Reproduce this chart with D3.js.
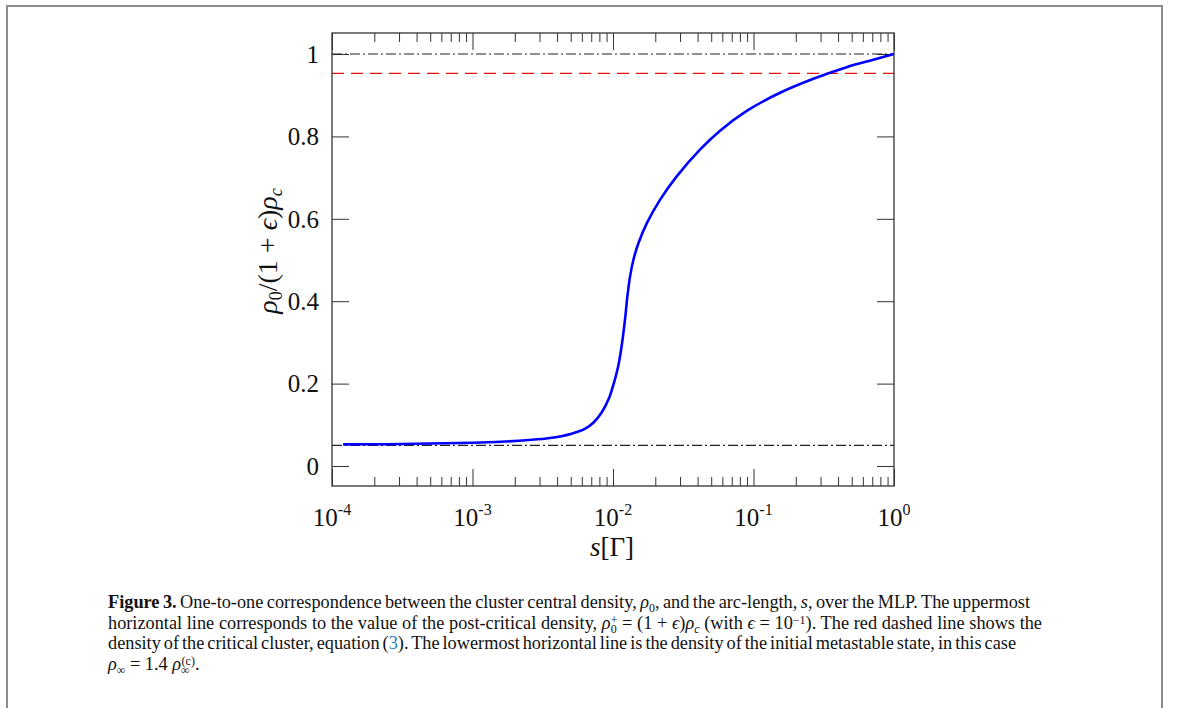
<!DOCTYPE html>
<html>
<head>
<meta charset="utf-8">
<script src="https://cdn.jsdelivr.net/npm/d3@7"></script>
<style>
  body { margin: 0; background: #fff; }
  svg { display: block; }
</style>
</head>
<body>
<div id="chart"></div>
<script>

// Values
// arc-length s (log axis) and normalised central density
const sValues = [1.2e-4, 2.5e-4, 5e-4, 1e-3, 1.6e-3, 2.5e-3, 3.55e-3, 5.0e-3, 6.3e-3, 7.24e-3,
                 8.3e-3, 9.33e-3, 1.016e-2, 1.09e-2, 1.153e-2, 1.216e-2, 1.265e-2, 1.321e-2,
                 1.396e-2, 1.514e-2, 1.738e-2, 2.16e-2, 2.84e-2, 4.16e-2, 5.78e-2, 8.95e-2,
                 0.1545, 0.267, 0.46, 0.713, 1.0]
const rhoValues = [0.0525, 0.053, 0.0545, 0.0565, 0.059, 0.063, 0.068, 0.078, 0.09, 0.105,
                   0.13, 0.163, 0.202, 0.243, 0.292, 0.354, 0.411, 0.459,
                   0.5, 0.54, 0.589, 0.646, 0.703, 0.768, 0.814, 0.862,
                   0.906, 0.94, 0.968, 0.986, 1.0]

// horizontal reference lines
const rhoPost = 1.0     // post-critical density (dash-dot, top)
const rhoCrit = 0.953   // critical cluster (red dashed)
const rhoInf = 0.05     // initial metastable state (dash-dot, bottom)

// ticks
const yTicks = [0, 0.2, 0.4, 0.6, 0.8, 1]
const yTickLabels = ["0", "0.2", "0.4", "0.6", "0.8", "1"]
const xMajor = [1e-4, 1e-3, 1e-2, 1e-1, 1]
const xExponents = ["-4", "-3", "-2", "-1", "0"]

// caption, one array per printed line
const captionLines = [
    [["Figure 3.", "b"], [" One-to-one correspondence between the cluster central density, "], ["ρ", "i"], ["0", "sub"],
     [", and the arc-length, "], ["s", "i"], [", over the MLP. The uppermost"]],
    [["horizontal line corresponds to the value of the post-critical density, "], ["ρ", "i"], ["0", "sub"], ["+", "supover"],
     [" = (1 + "], ["ϵ", "i"], [")"], ["ρ", "i"], ["c", "subi"], [" (with "], ["ϵ", "i"], [" = 10"], ["−1", "sup"],
     ["). The red dashed line shows the"]],
    [["density of the critical cluster, equation ("], ["3", "link"],
     ["). The lowermost horizontal line is the density of the initial metastable state, in this case"]],
    [["ρ", "i"], ["∞", "sub"], [" = 1.4 "], ["ρ", "i"], ["∞", "sub"], ["(c)", "supover"], ["."]]
]
const captionEnds = [1030, 1048, 1016, null]

// layout
const W = 1179, H = 708
const plot = { left: 332, right: 894, top: 33, bottom: 486 }
const serif = '"Liberation Serif", "DejaVu Serif", serif'

const svg = d3.select("#chart").append("svg")
    .attr("width", W)
    .attr("height", H)
    .attr("font-family", serif)
    .style("fill", "#111")

// outer figure box
svg.append("rect")
    .attr("x", 7).attr("y", 6)
    .attr("width", 1155).attr("height", 760)
    .attr("fill", "none")
    .attr("stroke", "#8c8c8c")
    .attr("stroke-width", 2)

// scales
const x = d3.scaleLog().domain([1e-4, 1]).range([plot.left, plot.right])
const y = d3.scaleLinear().domain([-0.0485, 1.051]).range([plot.bottom, plot.top])

const xMinor = x.ticks().filter(v => !xMajor.some(m => Math.abs(m - v) / m < 1e-6))

// axes (ticks point inward on all four sides)
function styleAxis(g) {
    g.select(".domain").remove()
    g.selectAll(".tick line").attr("stroke", "#333").attr("stroke-width", 1)
    g.selectAll(".tick text").remove()
}

svg.append("g").attr("transform", "translate(0," + plot.bottom + ")")
    .call(d3.axisBottom(x).tickValues(xMajor).tickSize(-17).tickFormat(""))
    .call(styleAxis)
svg.append("g").attr("transform", "translate(0," + plot.bottom + ")")
    .call(d3.axisBottom(x).tickValues(xMinor).tickSize(-9).tickFormat(""))
    .call(styleAxis)
svg.append("g").attr("transform", "translate(0," + plot.top + ")")
    .call(d3.axisTop(x).tickValues(xMajor).tickSize(-17).tickFormat(""))
    .call(styleAxis)
svg.append("g").attr("transform", "translate(0," + plot.top + ")")
    .call(d3.axisTop(x).tickValues(xMinor).tickSize(-9).tickFormat(""))
    .call(styleAxis)
svg.append("g").attr("transform", "translate(" + plot.left + ",0)")
    .call(d3.axisLeft(y).tickValues(yTicks).tickSize(-17).tickFormat(""))
    .call(styleAxis)
svg.append("g").attr("transform", "translate(" + plot.right + ",0)")
    .call(d3.axisRight(y).tickValues(yTicks).tickSize(-17).tickFormat(""))
    .call(styleAxis)

// reference lines
svg.append("line")
    .attr("x1", x(1e-4)).attr("x2", x(1))
    .attr("y1", y(rhoPost)).attr("y2", y(rhoPost))
    .attr("stroke", "#222").attr("stroke-width", 1.2)
    .attr("stroke-dasharray", "10,3,2,3")
svg.append("line")
    .attr("x1", x(1e-4)).attr("x2", x(1))
    .attr("y1", y(rhoInf)).attr("y2", y(rhoInf))
    .attr("stroke", "#222").attr("stroke-width", 1.2)
    .attr("stroke-dasharray", "10,3,2,3")
svg.append("line")
    .attr("x1", x(1e-4)).attr("x2", x(1))
    .attr("y1", y(rhoCrit)).attr("y2", y(rhoCrit))
    .attr("stroke", "#e41010").attr("stroke-width", 1.1)
    .attr("stroke-dasharray", "12,7")

// the curve
const pts = sValues.map((s, i) => [s, rhoValues[i]])
svg.append("path")
    .datum(pts)
    .attr("fill", "none")
    .attr("stroke", "#0000ff")
    .attr("stroke-width", 2.6)
    .attr("stroke-linejoin", "round")
    .attr("d", d3.line()
        .x(d => x(d[0]))
        .y(d => y(d[1]))
        .curve(d3.curveCatmullRom.alpha(0.5)))

// frame
svg.append("rect")
    .attr("x", plot.left).attr("y", plot.top)
    .attr("width", plot.right - plot.left).attr("height", plot.bottom - plot.top)
    .attr("fill", "none")
    .attr("stroke", "#333")
    .attr("stroke-width", 1.3)

// y tick labels
svg.selectAll(".ylab")
    .data(yTicks)
    .enter().append("text")
    .attr("class", "ylab")
    .attr("x", plot.left - 13)
    .attr("y", d => y(d))
    .attr("dy", "0.35em")
    .attr("text-anchor", "end")
    .attr("font-size", 25)
    .text((d, i) => yTickLabels[i])

// x tick labels 10^k
xMajor.forEach(function (v, i) {
    const t = svg.append("text")
        .attr("x", x(v))
        .attr("y", 526)
        .attr("text-anchor", "middle")
        .attr("font-size", 25)
    t.append("tspan").text("10")
    t.append("tspan").attr("dy", -11).attr("font-size", 16).text(xExponents[i])
})

// x axis label
const xl = svg.append("text")
    .attr("x", 612).attr("y", 556)
    .attr("text-anchor", "middle")
    .attr("font-size", 27)
xl.append("tspan").attr("font-style", "italic").text("s")
xl.append("tspan").text("[Γ]")

// y axis label
const yl = svg.append("text")
    .attr("transform", "translate(277,251) rotate(-90)")
    .attr("text-anchor", "middle")
    .attr("font-size", 28)
yl.append("tspan").attr("font-style", "italic").text("ρ")
yl.append("tspan").attr("dy", 5).attr("font-size", 18).text("0")
yl.append("tspan").attr("dy", -5).text("/(1 + ")
yl.append("tspan").attr("font-style", "italic").text("ϵ")
yl.append("tspan").text(")")
yl.append("tspan").attr("font-style", "italic").text("ρ")
yl.append("tspan").attr("dy", 5).attr("font-size", 18).attr("font-style", "italic").text("c")

// caption
const capX = 108, capY0 = 608, capStep = 20.7
captionLines.forEach(function (segs, li) {
    const t = svg.append("text")
        .attr("x", capX)
        .attr("y", capY0 + li * capStep)
        .attr("font-size", 18.3)
        .attr("xml:space", "preserve")
    let shift = 0
    segs.forEach(function (seg) {
        const txt = seg[0], kind = seg[1] || ""
        const sp = t.append("tspan").text(txt)
        let target = 0
        if (kind === "b") sp.attr("font-weight", "bold")
        if (kind === "i") sp.attr("font-style", "italic")
        if (kind === "link") sp.style("fill", "#2a7fc0")
        if (kind === "sub" || kind === "subi") {
            target = 4
            sp.attr("font-size", 12)
            if (kind === "subi") sp.attr("font-style", "italic")
        }
        if (kind === "sup" || kind === "supover") {
            target = -5
            sp.attr("font-size", 12)
        }
        if (kind === "supover") sp.attr("dx", txt === "+" ? -6 : -8)
        if (target !== shift) { sp.attr("dy", target - shift); shift = target }
    })
    // stretch the line to the printed width by spreading the word gaps
    if (captionEnds[li]) {
        const natural = t.node().getComputedTextLength()
        const gaps = segs.map(s => s[0]).join("").split(" ").length - 1
        t.attr("word-spacing", ((captionEnds[li] - capX) - natural) / gaps)
    }
})

</script>
</body>
</html>
